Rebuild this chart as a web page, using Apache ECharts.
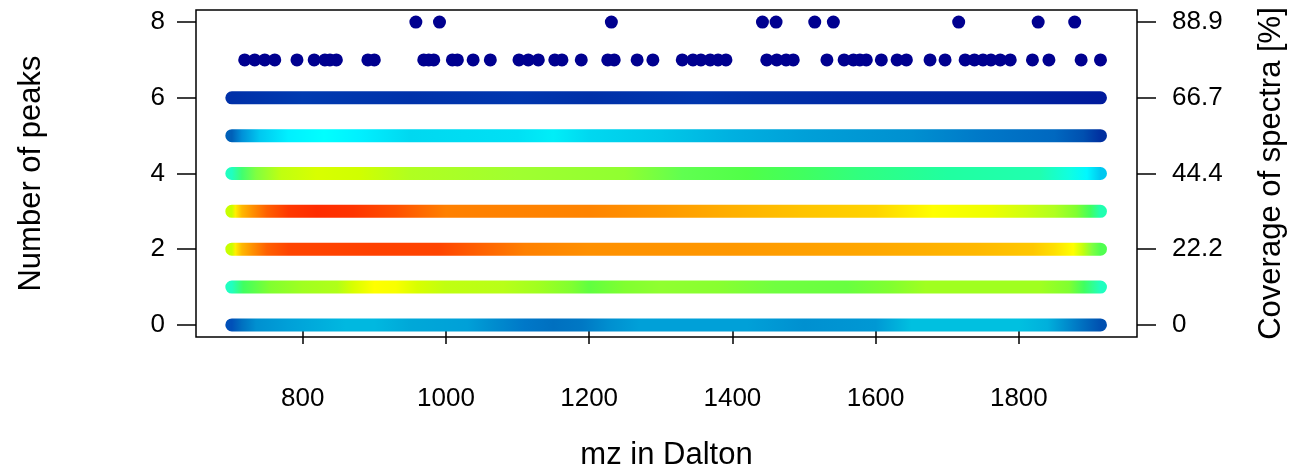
<!DOCTYPE html>
<html><head><meta charset="utf-8">
<script src="https://cdn.jsdelivr.net/npm/echarts@6/dist/echarts.min.js"></script>
<style>html,body{margin:0;padding:0;background:#fff}#c{width:1292px;height:467px}</style>
</head><body><div id="c"></div>
<script>
// ---- data ----
const xTicks = [800, 1000, 1200, 1400, 1600, 1800];
const yTicks = [0, 2, 4, 6, 8];
const coverageLabels = ['0', '22.2', '44.4', '66.7', '88.9'];
const mzFirst = 701, mzLast = 1914;
const xMin = 651, xMax = 1965;

// density colour along each dense row (mz, colour)
const row0Colors = [[701,'#0050B8'],[715,'#0070C0'],[735,'#0090D0'],[780,'#00A0D8'],[860,'#00B8E0'],[900,'#00B8E0'],[950,'#00A8D8'],[1030,'#00A0D8'],[1060,'#0090D0'],[1110,'#0078C8'],[1150,'#0070C0'],[1190,'#0078C4'],[1230,'#0090D0'],[1270,'#00A0D8'],[1420,'#00A0D8'],[1500,'#0090D0'],[1600,'#0098D4'],[1650,'#00C0E0'],[1800,'#00C0E0'],[1840,'#00B0DC'],[1876,'#0080C8'],[1914,'#0050B0']];
const row1Colors = [[701,'#20FFC0'],[717,'#40FF60'],[754,'#80FF30'],[800,'#A0FF20'],[848,'#B0FF18'],[870,'#D8FF00'],[900,'#FFFF00'],[930,'#F8FF00'],[960,'#D8FF00'],[1000,'#C0FF10'],[1080,'#B8FF18'],[1130,'#A0FF20'],[1175,'#80FF30'],[1200,'#60FF40'],[1250,'#80FF30'],[1300,'#90FF30'],[1380,'#88FF30'],[1460,'#70FF40'],[1560,'#68FF40'],[1620,'#80FF30'],[1670,'#A0FF20'],[1830,'#A0FF20'],[1870,'#80FF30'],[1891,'#40FF60'],[1914,'#20FFC0']];
const row2Colors = [[701,'#C8FF00'],[706,'#FFF000'],[715,'#FFB800'],[730,'#FF9000'],[750,'#FF6000'],[780,'#FF4400'],[900,'#FF4000'],[990,'#FF4400'],[1030,'#FF5800'],[1080,'#FF7000'],[1110,'#FF8000'],[1200,'#FF9000'],[1400,'#FF9800'],[1600,'#FFA800'],[1740,'#FFB800'],[1820,'#FFC800'],[1850,'#FFE000'],[1876,'#FFFF00'],[1890,'#C0FF10'],[1902,'#80FF40'],[1914,'#50FF50']];
const row3Colors = [[701,'#C8FF00'],[706,'#FFF000'],[715,'#FFB800'],[730,'#FF9000'],[750,'#FF6000'],[780,'#FF3800'],[820,'#FF2C00'],[870,'#FF3400'],[930,'#FF5000'],[970,'#FF6C00'],[1000,'#FF8000'],[1200,'#FF8400'],[1300,'#FF9800'],[1400,'#FFB000'],[1500,'#FFC400'],[1600,'#FFD400'],[1680,'#FFFF00'],[1760,'#EEFF00'],[1810,'#D0FF10'],[1850,'#B0FF20'],[1880,'#80FF30'],[1900,'#40FF60'],[1914,'#20FFB0']];
const row4Colors = [[701,'#20FFC0'],[715,'#40FF70'],[735,'#80FF40'],[770,'#C0FF10'],[820,'#D8FF00'],[880,'#D0FF00'],[950,'#B0FF20'],[1100,'#A0FF30'],[1250,'#90FF30'],[1330,'#60FF50'],[1420,'#50FF48'],[1500,'#40FF60'],[1580,'#30FF80'],[1700,'#20FFA0'],[1830,'#20FFB0'],[1870,'#10FFE0'],[1895,'#00F8FF'],[1914,'#00C8F0']];
const row5Colors = [[701,'#0060B8'],[715,'#0090D8'],[740,'#00C8F0'],[780,'#00F0FF'],[830,'#00FFFF'],[880,'#00F0FF'],[950,'#00D8F0'],[1100,'#00E0F4'],[1150,'#00EEF8'],[1200,'#00D8F0'],[1300,'#00C8E8'],[1400,'#00B0E0'],[1500,'#00A0D8'],[1650,'#0090D0'],[1750,'#0078C8'],[1850,'#0068C0'],[1890,'#0050B0'],[1914,'#0030A0']];
const row6Colors = [[701,'#0030A8'],[800,'#003AB0'],[950,'#0032AA'],[1100,'#0036AE'],[1200,'#0030A8'],[1350,'#0036AE'],[1450,'#0030A8'],[1550,'#002AA6'],[1700,'#0026A2'],[1800,'#0022A0'],[1914,'#001A9C']];

// sparse rows: mz of single peaks
const peaks7 = [719,733,747,761,792,816,831,838,847,891,900,969,976,983,1009,1016,1038,1062,1102,1115,1129,1152,1162,1189,1226,1235,1267,1289,1330,1345,1356,1369,1380,1391,1448,1462,1475,1485,1532,1556,1569,1578,1587,1608,1630,1643,1676,1697,1725,1738,1750,1761,1774,1788,1819,1842,1887,1914];
const peaks8 = [958,991,1231,1442,1461,1515,1541,1716,1827,1878];

const rowColors = [row0Colors,row1Colors,row2Colors,row3Colors,row4Colors,row5Colors,row6Colors];

// ---- chart ----
const FONT = 'Liberation Sans, Arial, Helvetica, sans-serif';
const FS = 26;
const FS_TITLE = 31;
const chart = echarts.init(document.getElementById('c'), null, {renderer: 'canvas'});

function axisY(pos, fmt, margin, name, gap) {
  return {
    type: 'value', position: pos, min: -0.32, max: 8.32,
    axisLine: {show: false},
    axisTick: {show: true, inside: false, length: 19, customValues: yTicks, lineStyle: {color: '#000', width: 1.5}},
    axisLabel: {show: true, customValues: yTicks, formatter: fmt, margin: margin, color: '#000', fontSize: FS, fontFamily: FONT},
    splitLine: {show: false},
    name: name, nameLocation: 'middle', nameGap: gap,
    nameTextStyle: {color: '#000', fontSize: FS_TITLE, fontFamily: FONT}
  };
}

const series = rowColors.map((c, k) => ({
  type: 'line', data: [[mzFirst, k], [mzLast, k]], symbol: 'none', silent: true,
  lineStyle: {width: 13, cap: 'round', color: c[0][1]}, z: 2
}));
series.push({type: 'scatter', data: peaks7.map(m => [m, 7]), symbolSize: 13, itemStyle: {color: '#00008F', opacity: 1}, silent: true, z: 3});
series.push({type: 'scatter', data: peaks8.map(m => [m, 8]), symbolSize: 13, itemStyle: {color: '#00008F', opacity: 1}, silent: true, z: 3});

chart.setOption({
  animation: false,
  backgroundColor: '#fff',
  grid: {left: 196, right: 155, top: 10, bottom: 130, show: true, borderColor: '#000', borderWidth: 1.5,
         containLabel: false, outerBoundsMode: 'none'},
  xAxis: {
    type: 'value', min: xMin, max: xMax,
    axisLine: {show: false},
    axisTick: {show: true, inside: false, length: 19, customValues: xTicks, lineStyle: {color: '#000', width: 1.5}},
    axisLabel: {show: true, customValues: xTicks, formatter: v => String(v), margin: 49, color: '#000', fontSize: FS, fontFamily: FONT},
    splitLine: {show: false},
    name: 'mz in Dalton', nameLocation: 'middle', nameGap: 103,
    nameTextStyle: {color: '#000', fontSize: FS_TITLE, fontFamily: FONT}
  },
  yAxis: [
    axisY('left', v => String(v), 31, 'Number of peaks', 149),
    axisY('right', v => coverageLabels[yTicks.indexOf(v)], 35, 'Coverage of spectra [%]', 119)
  ],
  series: series
});

// colour each dense row with a gradient placed through the x scale
const newSeries = rowColors.map((c, k) => {
  const p1 = chart.convertToPixel({xAxisIndex: 0, yAxisIndex: 0}, [mzFirst, k])[0];
  const p2 = chart.convertToPixel({xAxisIndex: 0, yAxisIndex: 0}, [mzLast, k])[0];
  return {lineStyle: {color: {type: 'linear', x: p1, y: 0, x2: p2, y2: 0, global: true,
    colorStops: c.map(s => ({offset: (s[0] - mzFirst) / (mzLast - mzFirst), color: s[1]}))}}};
});
chart.setOption({series: newSeries});
</script></body></html>
